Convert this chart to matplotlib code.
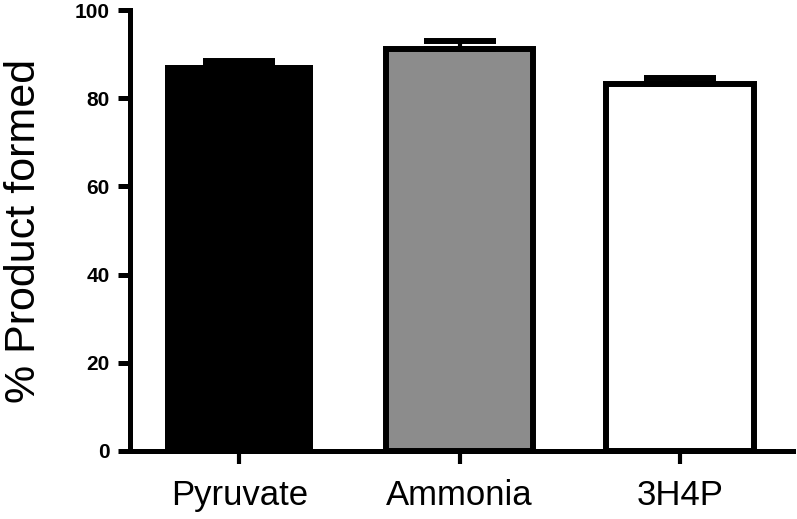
import matplotlib
matplotlib.use("Agg")
import matplotlib.pyplot as plt

categories = ["Pyruvate", "Ammonia", "3H4P"]
values = [87.5, 91.2, 83.2]
errors = [0.9, 1.8, 1.3]
y_ticks = [0, 20, 40, 60, 80, 100]

fill_colors = ["#000000", "#8c8c8c", "#ffffff"]
edge_widths = [0.0, 4.3, 4.3]

plt.rcParams["font.family"] = ["Liberation Sans", "DejaVu Sans"]

fig = plt.figure(figsize=(7.97, 5.19), dpi=100)
ax = fig.add_axes([130 / 797, 1 - 451 / 519, (793 - 130) / 797, (451 - 10) / 519])

x = list(range(len(categories)))
for xi, v, fc, lw in zip(x, values, fill_colors, edge_widths):
    ax.bar(xi, v, width=0.672, color=fc, edgecolor="black", linewidth=lw, zorder=2)

ax.errorbar(x, values, yerr=[[0] * len(errors), errors], fmt="none", ecolor="black",
            elinewidth=3, capsize=26, capthick=4.3, zorder=3)

ax.set_xlim(-0.497, 2.515)
ax.set_ylim(0, 100)
ax.set_yticks(y_ticks)
ax.set_yticklabels([str(t) for t in y_ticks], fontsize=15, fontweight="bold")
ax.set_xticks(x)
ax.set_xticklabels(categories, fontsize=25)

for s in ["top", "right"]:
    ax.spines[s].set_visible(False)
for s in ["left", "bottom"]:
    ax.spines[s].set_linewidth(3.6)
    ax.spines[s].set_capstyle("projecting")

ax.tick_params(axis="y", length=8.5, width=3.6, pad=6)
ax.tick_params(axis="x", length=9, width=3.0, pad=11)

ax.set_ylabel("% Product formed", fontsize=31)
ax.yaxis.set_label_coords(-0.129, 0.5)

fig.savefig("out.png", dpi=100)
